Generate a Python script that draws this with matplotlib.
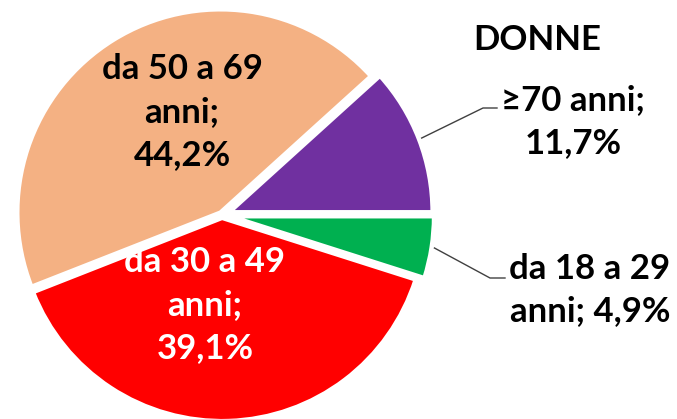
import matplotlib.pyplot as plt
import numpy as np

# data
labels = ["≥70 anni;\n11,7%", "da 50 a 69\nanni;\n44,2%", "da 30 a 49\nanni;\n39,1%", "da 18 a 29\nanni; 4,9%"]
values = [11.7, 44.2, 39.1, 4.9]
colors = ["#7030A0", "#F4B183", "#FF0000", "#00B050"]
title = "DONNE"

# slice offsets in pixels (pie explode is in data units here)
explode = [8, 3, 3, 9]

plt.rcParams['font.family'] = ['Lato', 'DejaVu Sans']

fig = plt.figure(figsize=(6.77, 4.19), dpi=100)
ax = fig.add_axes([0, 0, 1, 1])

cx, cy, r = 222, -215, 203
wedges, _ = ax.pie(values, colors=colors, explode=explode, startangle=0, counterclock=True,
                   center=(cx, cy), radius=r, frame=True,
                   wedgeprops=dict(edgecolor='white', linewidth=3))
ax.set_xlim(0, 677)
ax.set_ylim(-419, 0)
ax.set_aspect('equal')
ax.axis('off')

fs = 25
ls = 1.42
# inside labels
ax.text(182, -112, labels[1], ha='center', va='center', fontsize=fs, fontweight='bold',
        color='black', linespacing=ls)
ax.text(205, -305, labels[2], ha='center', va='center', fontsize=fs, fontweight='bold',
        color='white', linespacing=ls)

# outside labels with leader lines
ax.text(573, -122, labels[0], ha='center', va='center', fontsize=fs, fontweight='bold',
        color='black', linespacing=ls)
ax.text(590, -290, labels[3], ha='center', va='center', fontsize=fs, fontweight='bold',
        color='black', linespacing=ls)

for w, (ex, ey), hx in [(wedges[0], (483, -108), 497), (wedges[3], (490, -278), 505)]:
    ang = np.deg2rad((w.theta1 + w.theta2) / 2)
    x0 = w.center[0] + (w.r + 3) * np.cos(ang)
    y0 = w.center[1] + (w.r + 3) * np.sin(ang)
    ax.plot([x0, ex, hx], [y0, ey, ey], color='#404040', lw=1)

ax.text(537, -40, title, ha='center', va='center', fontsize=fs, fontweight='bold', color='black')

fig.savefig("out.png", dpi=100)
